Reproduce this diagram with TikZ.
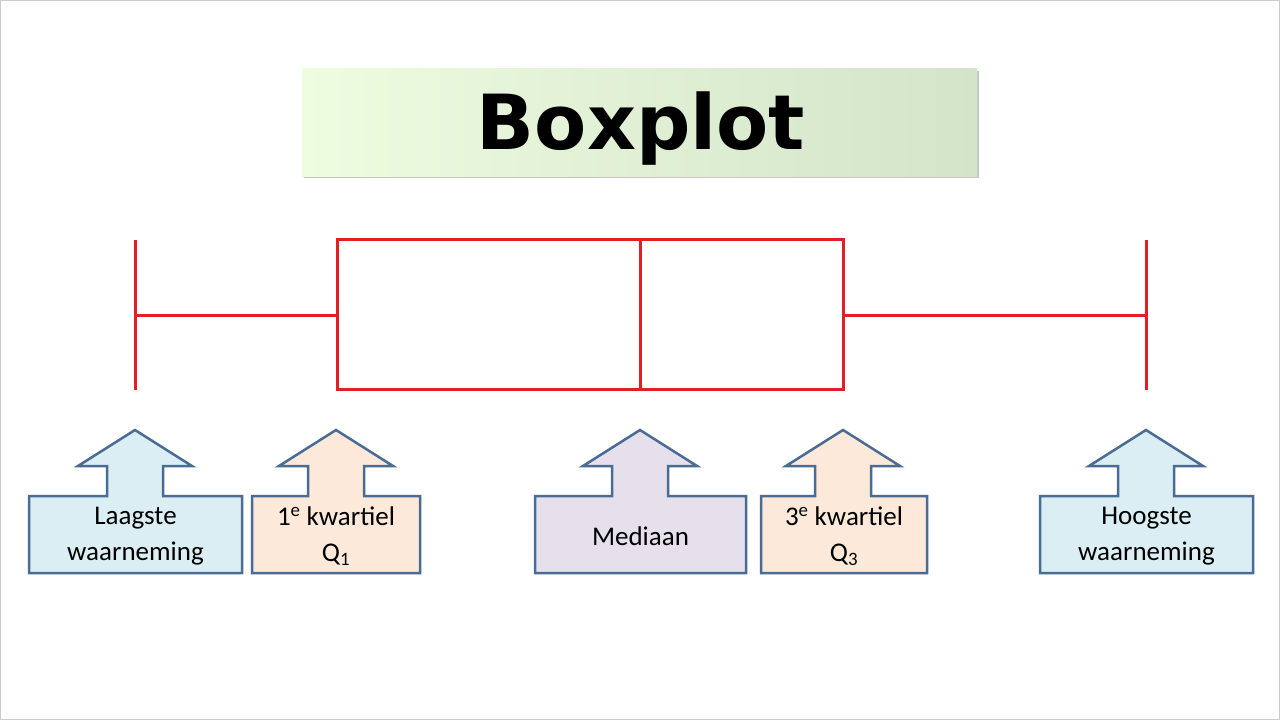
\documentclass[tikz,border=0pt]{standalone}
\usepackage{fontspec}
\setmainfont{Carlito}
\newfontfamily\titlefont{DejaVu Sans}
\usetikzlibrary{shadows}
\definecolor{bord}{HTML}{4A6C94}
\definecolor{cblue}{HTML}{DAEEF3}
\definecolor{corange}{HTML}{FDE9D9}
\definecolor{cpurple}{HTML}{E5E0EC}
\definecolor{bred}{HTML}{E31E24}
\definecolor{tl}{HTML}{EEFCE0}
\definecolor{tr}{HTML}{D3E4C8}
\tikzset{bp/.style={draw=bred,line width=3pt},
co/.style={draw=bord,line width=2.5pt,line join=miter},
lbl/.style={font=\fontsize{27}{36}\selectfont,align=center,inner sep=0}}
\newcommand{\callout}[6]{% tip x, left, right, fill, name, text
 \path[co,fill=#4] (#2,496) -- (#2,573) -- (#3,573) -- (#3,496) -- (#1+28,496) -- (#1+28,466) -- (#1+57,466) -- (#1,430) -- (#1-57,466) -- (#1-28,466) -- (#1-28,496) -- cycle;
 \node[lbl] (#5) at ({(#2+#3)/2},536) {#6};}
\begin{document}
\begin{tikzpicture}[x=1pt,y=-1pt]
\useasboundingbox (0,0) rectangle (1280,720);
\fill[white] (0,0) rectangle (1280,720);
\draw[gray!40,line width=1pt] (0.5,0.5) rectangle (1279.5,719.5);
\fill[gray!45] (304,71) rectangle (979,178);
\shade[left color=tl, right color=tr] (302,68) rectangle (977,176);
\node[font=\titlefont\bfseries\fontsize{76}{80}\selectfont] (title) at (641,129) {Boxplot};
\draw[bp] (135,240) -- (135,390);
\draw[bp] (135,315) -- (337,315);
\draw[bp] (337,239) rectangle (843,389);
\draw[bp] (640,239) -- (640,389);
\draw[bp] (843,315) -- (1146,315);
\draw[bp] (1146,240) -- (1146,390);
\callout{135}{29}{242}{cblue}{c1}{Laagste\\waarneming}
\callout{336}{252}{420}{corange}{c2}{1\textsuperscript{e} kwartiel\\Q\textsubscript{1}}
\callout{640}{535}{746}{cpurple}{c3}{Mediaan}
\callout{843}{761}{927}{corange}{c4}{3\textsuperscript{e} kwartiel\\Q\textsubscript{3}}
\callout{1146}{1040}{1253}{cblue}{c5}{Hoogste\\waarneming}
\end{tikzpicture}
\end{document}
